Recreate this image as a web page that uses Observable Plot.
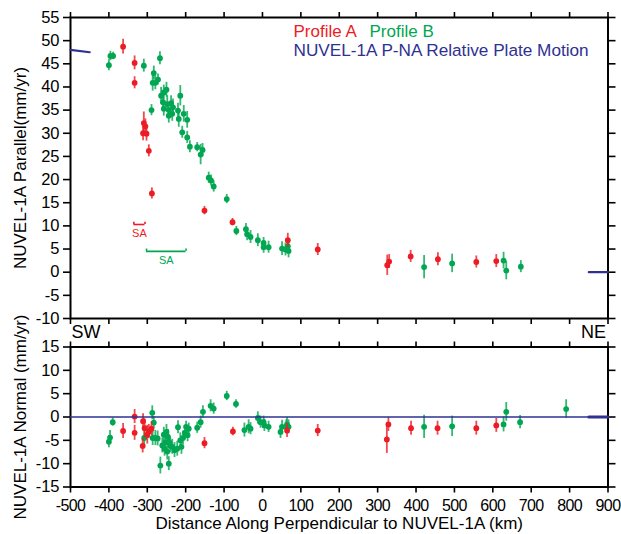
<!DOCTYPE html>
<html><head><meta charset="utf-8">
<script src="https://cdn.jsdelivr.net/npm/d3@7"></script>
<script src="https://cdn.jsdelivr.net/npm/@observablehq/plot@0.6"></script>
<style>
body{margin:0;background:#fff;}
#chart{position:relative;width:621px;height:534px;overflow:hidden;}
#chart svg{position:absolute;left:0;}
</style></head><body><div id="chart"></div>
<script>
// Profile A – parallel component
const aParX = [-363, -333, -333, -309, -305, -311, -302, -296, -288, -151, -78, 66, 144, 325, 330, 386, 457, 557, 609];
const aParV = [48.7, 45.2, 40.9, 32.2, 31.5, 30.0, 29.9, 26.2, 17.0, 13.3, 10.8, 6.9, 4.9, 1.5, 2.3, 3.4, 2.8, 2.2, 2.4];
const aParE = [1.6, 1.5, 1.3, 2.4, 1.6, 1.6, 1.6, 1.3, 1.2, 0.9, 0.8, 1.5, 1.3, 2.2, 1.5, 1.3, 1.4, 1.3, 1.4];
// Profile A – normal component
const aNorX = [-363, -333, -333, -311, -307, -300, -296, -289, -312, -151, -77, 64, 144, 324, 328, 387, 456, 557, 609];
const aNorV = [-3.0, 0.1, -3.4, -0.9, -2.4, -3.8, -3.1, -2.5, -6.2, -5.6, -3.1, -2.9, -2.9, -4.8, -1.6, -2.4, -2.4, -2.4, -1.8];
const aNorE = [1.6, 1.5, 1.6, 1.6, 2.0, 2.0, 1.5, 1.5, 1.5, 1.2, 0.9, 1.5, 1.3, 3.0, 1.5, 1.5, 1.5, 1.5, 1.5];
// Profile B – parallel component
const bParX = [-400, -396, -389, -309, -267, -283, -286, -279, -272, -289, -264, -257, -250, -259, -248, -238, -257, -244, -233, -220, -214, -244, -235, -218, -205, -196, -209, -196, -189, -170, -161, -156, -140, -134, -127, -93, -68, -43, -40, -31, -12, 3, 3, 16, 51, 60, 66, 68, 421, 494, 628, 635, 673];
const bParV = [44.7, 46.7, 46.7, 44.6, 46.2, 43.0, 40.9, 40.9, 41.6, 35.0, 38.1, 38.8, 39.4, 36.7, 36.3, 36.5, 35.3, 35.0, 35.6, 34.9, 38.1, 33.8, 34.2, 33.1, 34.2, 32.9, 30.2, 29.1, 27.1, 27.0, 25.4, 26.4, 20.4, 19.8, 18.5, 15.8, 8.9, 9.3, 8.2, 7.6, 6.9, 6.3, 5.4, 5.4, 5.1, 4.9, 5.6, 4.6, 1.1, 1.9, 2.5, 0.35, 1.2];
const bParE = [1.2, 1.0, 0.8, 1.4, 1.4, 1.5, 1.8, 1.5, 1.2, 1.2, 1.8, 1.6, 1.6, 1.6, 1.8, 1.6, 1.6, 1.6, 1.8, 1.6, 2.2, 1.6, 1.6, 1.8, 1.8, 1.8, 1.3, 1.3, 1.3, 1.0, 2.2, 1.4, 1.2, 1.2, 1.2, 1.0, 1.0, 1.2, 1.4, 1.4, 1.4, 1.2, 1.3, 1.3, 1.5, 1.4, 1.5, 1.5, 2.5, 2.0, 1.8, 2.0, 1.3];
// Profile B – normal component
const bNorX = [-400, -397, -390, -287, -283, -308, -286, -279, -273, -266, -244, -261, -255, -257, -250, -246, -253, -243, -240, -248, -229, -222, -235, -211, -214, -207, -220, -202, -195, -192, -199, -170, -161, -155, -135, -127, -93, -69, -47, -36, -31, -12, -5, 3, 5, 16, 47, 51, 62, 64, 68, 421, 494, 628, 635, 671, 791];
const bNorV = [-5.3, -4.4, -1.1, 0.9, -1.2, -4.5, -4.5, -4.5, -4.6, -10.4, -10.0, -6.1, -6.8, -3.8, -3.2, -4.3, -5.4, -5.4, -6.1, -7.4, -7.1, -6.8, -6.4, -6.4, -5.0, -4.5, -2.2, -3.4, -3.9, -2.5, -2.1, -2.3, -1.1, 1.1, 2.4, 1.8, 4.5, 2.8, -2.8, -2.1, -2.5, -0.2, -1.1, -1.1, -1.8, -2.1, -3.2, -2.1, -2.1, -1.6, -2.1, -2.1, -2.0, -1.6, 1.1, -1.1, 1.7];
const bNorE = [1.3, 1.5, 0.9, 1.5, 1.3, 2.0, 1.6, 1.6, 1.6, 1.8, 1.5, 1.6, 1.6, 1.6, 1.6, 1.6, 1.6, 1.6, 1.6, 1.8, 1.6, 1.6, 1.6, 1.6, 1.6, 1.5, 1.4, 1.4, 1.4, 1.2, 1.2, 1.2, 1.3, 1.3, 1.3, 1.2, 1.0, 0.9, 1.5, 1.5, 1.3, 1.3, 1.3, 1.3, 1.3, 1.2, 1.4, 1.4, 1.5, 1.5, 1.5, 2.5, 2.2, 1.6, 2.0, 1.4, 2.0];

// NUVEL-1A predicted relative plate motion (at the ends of the profile)
const motionParX = [-500, -450, 850, 900];
const motionParV = [48, 47.5, 0, 0];
const motionNorX = [850, 900];
const motionNorV = [0, 0];
const motionSeg = ["SW", "SW", "NE", "NE"];

// tick values
const xTicks = [-500, -400, -300, -200, -100, 0, 100, 200, 300, 400, 500, 600, 700, 800, 900];
const parTicks = [-10, -5, 0, 5, 10, 15, 20, 25, 30, 35, 40, 45, 50, 55];
const norTicks = [-15, -10, -5, 0, 5, 10, 15];

// "SA" annotations (x range, level)
const saLabels = ["SA", "SA"];
const saX1 = [-335, -302];
const saX2 = [-306, -199];
const saY = [10.3, 4.5];

const legendLabels = ["Profile A", "Profile B", "NUVEL-1A P-NA Relative Plate Motion"];
const xTitle = "Distance Along Perpendicular to NUVEL-1A (km)";
const yTitleTop = "NUVEL-1A Parallel(mm/yr)";
const yTitleBottom = "NUVEL-1A Normal (mm/yr)";

const RED = "#ed1c24", GREEN = "#00a651", BLUE = "#2e3192";
const FONT = '"Liberation Sans", Arial, Helvetica, sans-serif';
const rows = (xs, vs, es) => xs.map((x, i) => ({x, v: vs[i], e: es ? es[i] : 0}));

const aPar = rows(aParX, aParV, aParE), bPar = rows(bParX, bParV, bParE);
const aNor = rows(aNorX, aNorV, aNorE), bNor = rows(bNorX, bNorV, bNorE);
const motionPar = motionParX.map((x, i) => ({x, v: motionParV[i], s: motionSeg[i]}));
const motionNor = rows(motionNorX, motionNorV);
const sa = saLabels.map((t, i) => ({t, x1: saX1[i], x2: saX2[i], y: saY[i], c: i === 0 ? RED : GREEN}));

const style = {fontFamily: FONT, fontSize: "16px", background: "white", color: "black", overflow: "visible"};
const W = 621, ML = 70, MR = 13.5;

function errMarks(data, color) {
  return [
    Plot.ruleX(data, {x: "x", y1: d => d.v - d.e, y2: d => d.v + d.e, stroke: color, strokeWidth: 1.8, strokeOpacity: 0.8}),
    Plot.dot(data, {x: "x", y: "v", r: 2.9, fill: color, stroke: null})
  ];
}
function frameAxes(yTicks) {
  return [
    Plot.axisX({anchor: "top", ticks: xTicks, tickSize: 6, tickFormat: () => "", label: null, strokeWidth: 1.6}),
    Plot.axisY({anchor: "right", ticks: yTicks, tickSize: 7, tickFormat: () => "", label: null, strokeWidth: 1.6}),
    Plot.axisY({anchor: "left", ticks: yTicks, tickSize: 7, tickPadding: 4, tickFormat: d => String(d), label: null, strokeWidth: 1.6, fontSize: 16.5}),
    Plot.frame({stroke: "black", strokeWidth: 2})
  ];
}

const topPlot = Plot.plot({
  width: W, height: 326, marginTop: 17, marginBottom: 8, marginLeft: ML, marginRight: MR,
  style,
  x: {domain: [-500, 900]},
  y: {domain: [-10, 55]},
  marks: [
    Plot.axisX({anchor: "bottom", ticks: xTicks, tickSize: 6, tickFormat: () => "", label: null, strokeWidth: 1.6}),
    ...frameAxes(parTicks),
    ...errMarks(bPar, GREEN),
    ...errMarks(aPar, RED),
    Plot.line(motionPar, {x: "x", y: "v", z: "s", stroke: BLUE, strokeWidth: 2.2}),
    // SA brackets
    Plot.ruleY(sa, {y: "y", x1: "x1", x2: "x2", stroke: "c", strokeWidth: 1.6}),
    Plot.ruleX(sa, {x: "x1", y1: "y", y2: d => d.y + 0.5, stroke: "c", strokeWidth: 1.6}),
    Plot.ruleX(sa, {x: "x2", y1: "y", y2: d => d.y + 0.5, stroke: "c", strokeWidth: 1.6}),
    Plot.text(sa, {x: d => (d.x1 + d.x2) / 2, y: "y", text: "t", fill: "c", fontSize: 11, dy: 9, lineAnchor: "middle"}),
    // legend
    Plot.text([legendLabels[0]], {text: d => d, frameAnchor: "top-left", dx: 223, dy: 14, lineAnchor: "middle", textAnchor: "start", fill: RED, fontSize: 17}),
    Plot.text([legendLabels[1]], {text: d => d, frameAnchor: "top-left", dx: 299, dy: 14, lineAnchor: "middle", textAnchor: "start", fill: GREEN, fontSize: 17}),
    Plot.text([legendLabels[2]], {text: d => d, frameAnchor: "top-left", dx: 223, dy: 33, lineAnchor: "middle", textAnchor: "start", fill: BLUE, fontSize: 17.2}),
    // y title
    Plot.text([yTitleTop], {text: d => d, frameAnchor: "left", dx: -50, rotate: -90, lineAnchor: "middle", textAnchor: "middle", fontSize: 17})
  ]
});

const bottomPlot = Plot.plot({
  width: W, height: 208, marginTop: 20.5, marginBottom: 47.5, marginLeft: ML, marginRight: MR,
  style,
  x: {domain: [-500, 900]},
  y: {domain: [-15, 15]},
  marks: [
    Plot.axisX({anchor: "bottom", ticks: xTicks, tickSize: 6, tickPadding: 7, tickFormat: d => String(d), label: null, strokeWidth: 1.6, fontSize: 16}),
    ...frameAxes(norTicks),
    ...errMarks(bNor, GREEN),
    ...errMarks(aNor, RED),
    Plot.ruleY([0], {stroke: BLUE, strokeWidth: 1.6}),
    Plot.line(motionNor, {x: "x", y: "v", stroke: BLUE, strokeWidth: 3}),
    Plot.text(["SW"], {text: d => d, frameAnchor: "top-left", dx: 1, dy: -15, lineAnchor: "middle", textAnchor: "start", fontSize: 18}),
    Plot.text(["NE"], {text: d => d, frameAnchor: "top-right", dx: -2, dy: -15, lineAnchor: "middle", textAnchor: "end", fontSize: 18}),
    Plot.text([xTitle], {text: d => d, frameAnchor: "bottom", dy: 36.5, lineAnchor: "middle", textAnchor: "middle", fontSize: 17}),
    Plot.text([yTitleBottom], {text: d => d, frameAnchor: "left", dx: -50, rotate: -90, lineAnchor: "middle", textAnchor: "middle", fontSize: 17})
  ]
});

const chart = document.getElementById("chart");
topPlot.style.top = "0px";
bottomPlot.style.top = "326px";
chart.appendChild(topPlot);
chart.appendChild(bottomPlot);
// slightly condensed tick labels, like the reference
bottomPlot.querySelectorAll('[aria-label="x-axis tick label"] text').forEach(t => t.setAttribute("letter-spacing", "-0.6"));
</script>
</body></html>
